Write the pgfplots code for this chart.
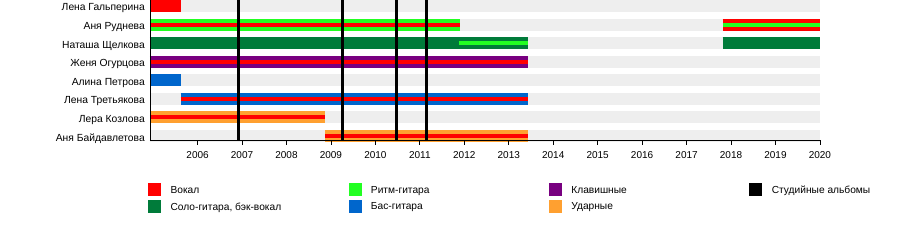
\documentclass[border=0pt]{standalone}
\usepackage{fontspec}
\setmainfont{Liberation Sans}
\usepackage{pgfplots}
\pgfplotsset{compat=1.18}
\definecolor{vocal}{RGB}{255,0,0}
\definecolor{solo}{RGB}{0,123,58}
\definecolor{rhythm}{RGB}{34,255,34}
\definecolor{bass}{RGB}{0,102,204}
\definecolor{keys}{RGB}{120,0,128}
\definecolor{drums}{RGB}{255,160,48}
\definecolor{bg}{RGB}{238,238,238}
\newcommand{\lgd}[2]{\makebox[#1][l]{\hspace*{10pt}\raisebox{-2.5pt}{#2}}}
\begin{document}
\begin{tikzpicture}
\useasboundingbox (0,0) rectangle (900pt,240pt);
\begin{axis}[
  at={(150pt,100pt)}, anchor=south west,
  scale only axis, width=670pt, height=140pt,
  xmin=2004.93, xmax=2020, ymin=0.677, ymax=8.215, y dir=reverse,
  axis x line*=bottom, axis y line*=left,
  axis line style={black, line width=0.8pt},
  axis on top,
  clip=false,
  xtick={2006,...,2020},
  tick align=outside, major tick length=5pt,
  x tick style={black, line width=0.8pt},
  /pgf/number format/assume math mode=true,
  x tick label style={font=\fontsize{10}{12}\selectfont, /pgf/number format/1000 sep={}, yshift=-3pt},
  ytick={1,...,8},
  yticklabels={Лена Гальперина, Аня Руднева, Наташа Щелкова, Женя Огурцова, Алина Петрова, Лена Третьякова, Лера Козлова, Аня Байдавлетова},
  y tick style={draw=none},
  y tick label style={font=\fontsize{10.3}{12}\selectfont, inner sep=0pt, yshift=-2.5pt},
  legend columns=4,
  legend image code/.code={\fill[#1] (0pt,-6pt) rectangle (12pt,6pt);},
  legend style={at={(-0.003,-0.307)}, anchor=north west, draw=none, fill=none,
    inner sep=0pt, column sep=0pt, row sep=4.2pt, nodes={inner sep=0pt},
    font=\fontsize{10.2}{12}\selectfont},
]
% background rows
\addplot[bg, line width=12pt, forget plot] coordinates {(2004.93,1) (2020,1)};
\addplot[bg, line width=12pt, forget plot] coordinates {(2004.93,2) (2020,2)};
\addplot[bg, line width=12pt, forget plot] coordinates {(2004.93,3) (2020,3)};
\addplot[bg, line width=12pt, forget plot] coordinates {(2004.93,4) (2020,4)};
\addplot[bg, line width=12pt, forget plot] coordinates {(2004.93,5) (2020,5)};
\addplot[bg, line width=12pt, forget plot] coordinates {(2004.93,6) (2020,6)};
\addplot[bg, line width=12pt, forget plot] coordinates {(2004.93,7) (2020,7)};
\addplot[bg, line width=12pt, forget plot] coordinates {(2004.93,8) (2020,8)};
% Лена Гальперина
\addplot[vocal, line width=12pt, forget plot] coordinates {(2004.93,1) (2005.62,1)};
% Аня Руднева
\addplot[rhythm, line width=12pt, forget plot] coordinates {(2004.93,2) (2011.90,2)};
\addplot[vocal, line width=4pt, forget plot] coordinates {(2004.93,2) (2011.90,2)};
\addplot[vocal, line width=12pt, forget plot] coordinates {(2017.81,2) (2020,2)};
\addplot[rhythm, line width=4pt, forget plot] coordinates {(2017.81,2) (2020,2)};
% Наташа Щелкова
\addplot[solo, line width=12pt, forget plot] coordinates {(2004.93,3) (2013.43,3)};
\addplot[rhythm, line width=4.5pt, forget plot] coordinates {(2011.88,3) (2013.43,3)};
\addplot[solo, line width=12pt, forget plot] coordinates {(2017.81,3) (2020,3)};
% Женя Огурцова
\addplot[keys, line width=12pt, forget plot] coordinates {(2004.93,4) (2013.43,4)};
\addplot[vocal, line width=4pt, forget plot] coordinates {(2004.93,4) (2013.43,4)};
% Алина Петрова
\addplot[bass, line width=12pt, forget plot] coordinates {(2004.93,5) (2005.62,5)};
% Лена Третьякова
\addplot[bass, line width=12pt, forget plot] coordinates {(2005.62,6) (2013.43,6)};
\addplot[vocal, line width=4pt, forget plot] coordinates {(2005.62,6) (2013.43,6)};
% Лера Козлова
\addplot[drums, line width=12pt, forget plot] coordinates {(2004.93,7) (2008.87,7)};
\addplot[vocal, line width=4pt, forget plot] coordinates {(2004.93,7) (2008.87,7)};
% Аня Байдавлетова
\addplot[drums, line width=12pt, forget plot] coordinates {(2008.87,8) (2013.43,8)};
\addplot[vocal, line width=4pt, forget plot] coordinates {(2008.87,8) (2013.43,8)};
% studio albums
\addplot[black, line width=3pt, forget plot] coordinates {(2006.92,0.677) (2006.92,8.215)};
\addplot[black, line width=3pt, forget plot] coordinates {(2009.26,0.677) (2009.26,8.215)};
\addplot[black, line width=3pt, forget plot] coordinates {(2010.47,0.677) (2010.47,8.215)};
\addplot[black, line width=3pt, forget plot] coordinates {(2011.16,0.677) (2011.16,8.215)};
% legend
\addlegendimage{vocal}
\addlegendentry{\lgd{188pt}{Вокал}}
\addlegendimage{rhythm}
\addlegendentry{\lgd{188pt}{Ритм-гитара}}
\addlegendimage{keys}
\addlegendentry{\lgd{188pt}{Клавишные}}
\addlegendimage{black}
\addlegendentry{\lgd{130pt}{Студийные альбомы}}
\addlegendimage{solo}
\addlegendentry{\lgd{188pt}{Соло-гитара, бэк-вокал}}
\addlegendimage{bass}
\addlegendentry{\lgd{188pt}{Бас-гитара}}
\addlegendimage{drums}
\addlegendentry{\lgd{188pt}{Ударные}}
\end{axis}
\end{tikzpicture}
\end{document}
